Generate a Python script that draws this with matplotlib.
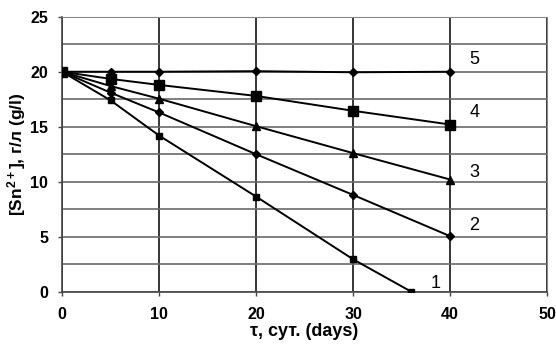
import matplotlib.pyplot as plt
import matplotlib.ticker as mticker

plt.rcParams['font.family'] = ['Liberation Sans', 'DejaVu Sans']
plt.rcParams['mathtext.fontset'] = 'custom'
plt.rcParams['mathtext.rm'] = 'Liberation Sans:bold'
plt.rcParams['mathtext.bf'] = 'Liberation Sans:bold'
plt.rcParams['mathtext.default'] = 'bf'

# Sn2+ concentration vs time for five solutions
t1 = [0, 5, 10, 20, 30, 36]
c1 = [20, 17.4, 14.2, 8.65, 2.95, 0]
t2 = [0, 5, 10, 20, 30, 40]
c2 = [20, 18.1, 16.3, 12.5, 8.8, 5.05]
c3 = [20, 18.7, 17.55, 15.05, 12.6, 10.2]
c4 = [20, 19.35, 18.8, 17.8, 16.45, 15.2]
c5 = [20, 20.0, 20.0, 20.05, 19.95, 20.0]

curve_names = ['1', '2', '3', '4', '5']
label_pos = [(38.0, 0.7), (42.0, 6.0), (42.0, 10.8), (42.0, 16.3), (42.0, 21.1)]

fig = plt.figure(figsize=(5.56, 3.45), dpi=100)
ax = fig.add_axes([0.1115, 0.1545, 0.8725, 0.797])

ax.plot(t1, c1, color='black', lw=1.4, marker='s', ms=4.5, zorder=3)
ax.plot(t2, c2, color='black', lw=1.4, marker='D', ms=4.5, zorder=3)
ax.plot(t2, c3, color='black', lw=1.4, marker='^', ms=5.5, zorder=3)
ax.plot(t2, c4, color='black', lw=1.4, marker='s', ms=6.5, zorder=3)
ax.plot(t2, c5, color='black', lw=1.4, marker='D', ms=4.5, zorder=3)

for name, (x, y) in zip(curve_names, label_pos):
    ax.text(x, y, name, fontsize=13, va='center', ha='left')

ax.set_xlim(0, 50)
ax.set_ylim(0, 25)
ax.xaxis.set_major_locator(mticker.MultipleLocator(10))
ax.yaxis.set_major_locator(mticker.MultipleLocator(5))
ax.yaxis.set_minor_locator(mticker.MultipleLocator(2.5))

# horizontal grid gray, vertical grid black
ax.grid(axis='y', which='both', color='#6a6a6a', lw=1.2, zorder=0)
ax.grid(axis='x', which='major', color='black', lw=1.1, zorder=0)
ax.tick_params(axis='y', which='minor', length=0)
ax.tick_params(axis='both', which='major', direction='out', length=3, width=1,
               color='#444444', labelsize=11.5)
ax.tick_params(axis='x', pad=8)
ax.tick_params(axis='y', pad=7)
for lbl in ax.get_xticklabels() + ax.get_yticklabels():
    lbl.set_fontweight('bold')

for side in ['top', 'right']:
    ax.spines[side].set_color('#888888')
for side in ['left', 'bottom']:
    ax.spines[side].set_color('#444444')
    ax.spines[side].set_linewidth(1.2)

ax.set_xlabel('τ, сут. (days)', fontsize=13, fontweight='bold', labelpad=1)
ax.set_ylabel('[Sn$^{2+}$], г/л (g/l)', fontsize=12.5, fontweight='bold',
              va='center')
ax.yaxis.set_label_coords(-0.093, 0.5)

fig.savefig('out.png', dpi=100)
